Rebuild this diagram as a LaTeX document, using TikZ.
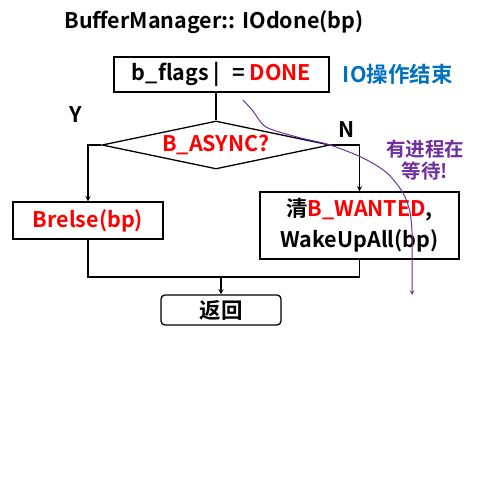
\documentclass[tikz,border=0pt]{standalone}
\usepackage{fontspec}
\setmainfont{Noto Sans CJK SC}[BoldFont={Noto Sans CJK SC Bold}]
\usetikzlibrary{shapes.geometric}
\definecolor{flowred}{RGB}{255,0,0}
\definecolor{noteblue}{RGB}{0,112,192}
\definecolor{notepurple}{RGB}{112,48,160}
\tikzset{
  procbox/.style={draw,rectangle,inner sep=0pt,align=center},
  decision/.style={draw,diamond,inner sep=0pt,shape aspect=4.75,minimum width=228pt,minimum height=48pt},
  endbox/.style={draw,rectangle,rounded corners=4pt,inner sep=0pt},
}
\begin{document}
\begin{tikzpicture}[x=1pt,y=-1pt,>=stealth,line width=1.3pt,
    font=\fontsize{21.5}{25}\selectfont\bfseries]
  \useasboundingbox (0,0) rectangle (502,481);
  % title and steps
  \node (title) at (214,22) {BufferManager:: IOdone(bp)};
  \node[procbox,minimum width=215pt,minimum height=35pt] (flagbox) at (221.5,74.5)
    {b\_flags |\hspace{12pt}= \textcolor{flowred}{DONE}};
  \node[text=noteblue,anchor=west] (ionote) at (339,74.5) {IO操作结束};
  \node[decision] (async) at (216,145) {\textcolor{flowred}{B\_ASYNC?}};
  \node[procbox,minimum width=150pt,minimum height=37pt,text=flowred] (brelse) at (88,220.5) {Brelse(bp)};
  \node[procbox,minimum width=199pt,minimum height=67pt,
    font=\fontsize{21.5}{31}\selectfont\bfseries] (wakeup) at (359.5,225.5)
    {清\textcolor{flowred}{B\_WANTED},\\WakeUpAll(bp)};
  \node[endbox,minimum width=120pt,minimum height=30pt] (ret) at (221,310) {返回};
  \path
    (76,115) node (ylabel) {Y}
    (347,130) node (nlabel) {N}
    ;
  \node[text=notepurple,align=center,font=\fontsize{19.5}{22}\selectfont\bfseries] (waitnote) at (425,160)
    {有进程在\\等待!};
  % connectors
  \draw (flagbox.south -| async.north) -- (async.north);
  \draw[->] (async.west) -| (brelse.north);
  \draw[->] (async.east) -| (wakeup.north);
  \coordinate (join) at (221,277);
  \draw (brelse.south) |- (join) -| (wakeup.south);
  \draw[->] (join) -- (ret.north);
  % waiting process
  \coordinate (waitstart) at (243,100);
  \coordinate (waitend) at (412,295);
  \draw[notepurple,line width=1pt,->] plot[smooth] coordinates {(waitstart) (253,111) (266,127) (297,137)
    (330,145) (363,158) (387,173) (403,193) (410,212) (412,232)} -- (waitend);
\end{tikzpicture}
\end{document}
